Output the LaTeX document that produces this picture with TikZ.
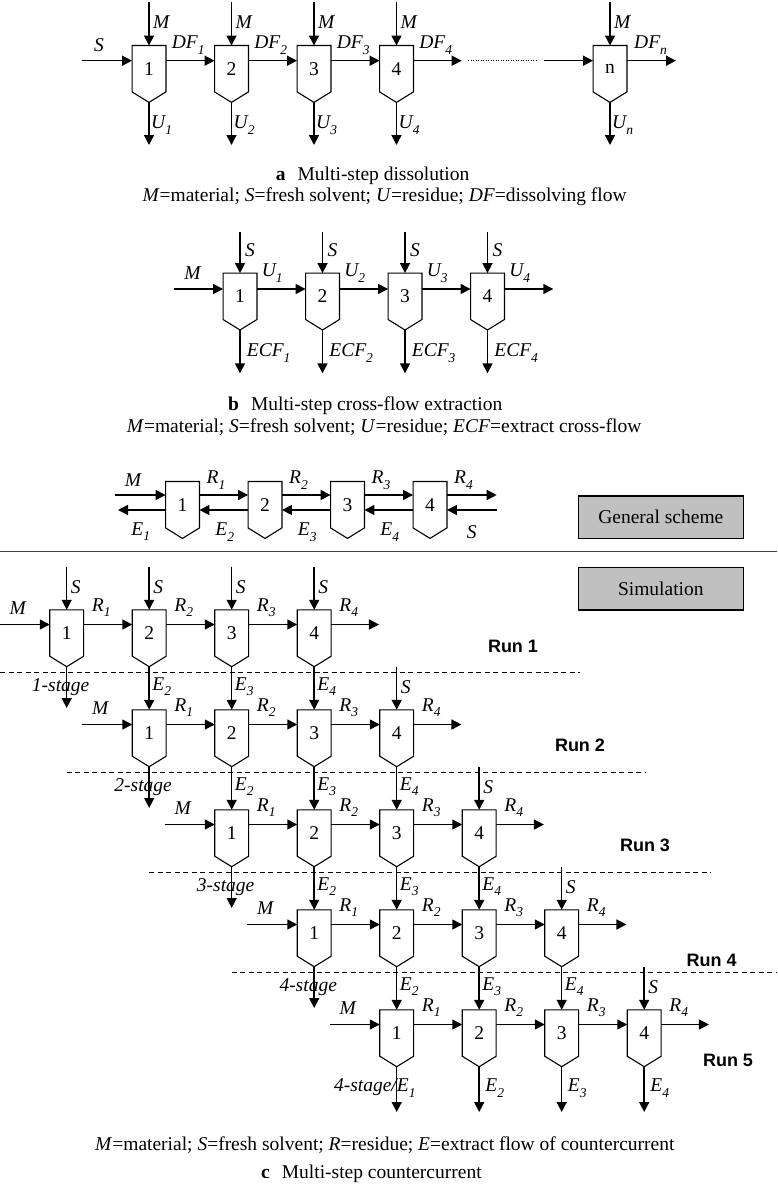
\documentclass[tikz,border=0pt]{standalone}
\usepackage{fontspec}
\setmainfont{Liberation Serif}
\newfontfamily\runfont{Liberation Sans}
\usetikzlibrary{arrows.meta,calc}
\definecolor{boxgray}{RGB}{192,192,192}
\newcommand\ssb[1]{\raisebox{-0.28em}{\fontsize{13.5}{14}\selectfont #1}}
\newcommand\unitbox[4]{%
  \node[unitrect] (#1) at (#2,#3+23) {#4};
  \draw[boxline] (#1.north west) -- (#1.south west) -- ($(#1.south)+(0,10.5)$) coordinate (#1-p) -- (#1.south east) -- (#1.north east) -- cycle;}
\begin{document}
\begin{tikzpicture}[x=1pt,y=-1pt,
  unitrect/.style={rectangle, minimum width=33.5pt, minimum height=46pt, inner sep=0pt, font=\fontsize{19.5}{22}\selectfont},
  boxline/.style={line width=1.1pt, line join=miter},
  arr/.style={line width=1.5pt, -{Triangle[length=10pt,width=10pt]}},
  lab/.style={inner sep=0pt, font=\fontsize{19.5}{22}\selectfont\itshape},
  captxt/.style={inner sep=0pt, font=\fontsize{19.5}{22}\selectfont},
  runlab/.style={inner sep=0pt, font=\runfont\bfseries\fontsize{18}{20}\selectfont},
  graybox/.style={draw, line width=1.1pt, fill=boxgray, minimum width=165pt, minimum height=42.5pt, inner sep=0pt, font=\fontsize{19.5}{22}\selectfont},
  dashline/.style={line width=1.1pt, dash pattern=on 5pt off 3.5pt},
  dotline/.style={line width=0.9pt, dash pattern=on 1pt off 1.5pt},
  sepline/.style={line width=1.5pt, black!75}
]
\useasboundingbox (0,0) rectangle (777,1189);

% ---------- (a) multi-step dissolution ----------
\foreach \i/\x in {1/149,2/231.5,3/314,4/396.5}{
  \unitbox{a\i}{\x}{45.7}{\i}
  \coordinate (aM\i) at (\x,1.5);
  \coordinate (aU\i) at (\x,145);
  \draw[arr] (aM\i) -- (a\i.north);
  \draw[arr] (a\i-p) -- (aU\i);
  \node[lab,anchor=west] (aMl\i) at (\x+4,21.7) {M};
  \node[lab,anchor=west] (aUl\i) at (\x+2,125) {U\ssb{\i}};
  \node[lab,anchor=west] (aDl\i) at (\x+22.7,45) {DF\ssb{\i}};
}
\unitbox{an}{610}{45.7}{n}
\coordinate (aMn) at (610,1.5);
\coordinate (aUn) at (610,145);
\draw[arr] (aMn) -- (an.north);
\draw[arr] (an-p) -- (aUn);
\node[lab,anchor=west] (aMln) at (614,21.7) {M};
\node[lab,anchor=west] (aUln) at (612,125) {U\ssb{n}};
\node[lab,anchor=west] (aDln) at (634,45) {DF\ssb{n}};
\coordinate (aS) at (82,60.7);
\node[lab] (aSl) at (99,45) {S};
\draw[arr] (aS) -- ([yshift=8pt]a1.west);
\foreach \i/\j in {1/2,2/3,3/4}{
  \draw[arr] ([yshift=8pt]a\i.east) -- ([yshift=8pt]a\j.west);
}
\coordinate (aD4) at (461.7,60.7);
\draw[arr] ([yshift=8pt]a4.east) -- (aD4);
\coordinate (aDa) at (468,60.7);
\coordinate (aDb) at (536,60.7);
\draw[dotline] (aDa) -- (aDb);
\coordinate (aIn) at (544,60.7);
\draw[arr] (aIn) -- ([yshift=8pt]an.west);
\coordinate (aOut) at (676,60.7);
\draw[arr] ([yshift=8pt]an.east) -- (aOut);
\node[captxt,anchor=west] (capa1) at (275.7,176) {\textbf{a}\hspace{12pt}Multi-step dissolution};
\node[captxt,anchor=west] (capa2) at (142.3,197) {\textit{M}=material; \textit{S}=fresh solvent; \textit{U}=residue; \textit{DF}=dissolving flow};

% ---------- (b) cross-flow extraction ----------
\foreach \i/\x in {1/240,2/322.5,3/405,4/487.5}{
  \unitbox{b\i}{\x}{273.3}{\i}
  \coordinate (bS\i) at (\x,231.7);
  \draw[arr] (bS\i) -- (b\i.north);
  \node[lab,anchor=west] (bSl\i) at (\x+5,250) {S};
  \coordinate (bE\i) at (\x,373.3);
  \draw[arr] (b\i-p) -- (bE\i);
  \node[lab,anchor=west] (bEl\i) at (\x+6.7,353) {ECF\ssb{\i}};
  \node[lab,anchor=west] (bUl\i) at (\x+21.7,273) {U\ssb{\i}};
}
\coordinate (bM) at (174,289);
\node[lab] (bMl) at (192.5,273) {M};
\draw[arr] (bM) -- ([yshift=7.3pt]b1.west);
\foreach \i/\j in {1/2,2/3,3/4}{
  \draw[arr] ([yshift=7.3pt]b\i.east) -- ([yshift=7.3pt]b\j.west);
}
\coordinate (bU4) at (553.3,289);
\draw[arr] ([yshift=7.3pt]b4.east) -- (bU4);
\node[captxt,anchor=west] (capb1) at (228,406) {\textbf{b}\hspace{12pt}Multi-step cross-flow extraction};
\node[captxt,anchor=west] (capb2) at (126.7,427) {\textit{M}=material; \textit{S}=fresh solvent; \textit{U}=residue; \textit{ECF}=extract cross-flow};

% ---------- (c) general scheme ----------
\foreach \i/\x in {1/182.5,2/265,3/347.5,4/430}{
  \unitbox{g\i}{\x}{481.7}{\i}
  \node[lab,anchor=west] (gRl\i) at (\x+24,480) {R\ssb{\i}};
}
\coordinate (gM) at (115,495);
\draw[arr] (gM) -- ([yshift=9.7pt]g1.west);
\coordinate (gE1) at (118,510);
\draw[arr] ([yshift=-5.3pt]g1.west) -- (gE1);
\foreach \i/\j/\x in {1/2/182.5,2/3/265,3/4/347.5}{
  \draw[arr] ([yshift=9.7pt]g\i.east) -- ([yshift=9.7pt]g\j.west);
  \draw[arr] ([yshift=-5.3pt]g\j.west) -- ([yshift=-5.3pt]g\i.east);
  \node[lab,anchor=west] (gEl\j) at (\x+32.75,532) {E\ssb{\j}};
}
\coordinate (gR4) at (496.7,495);
\draw[arr] ([yshift=9.7pt]g4.east) -- (gR4);
\coordinate (gS) at (496.7,510);
\draw[arr] (gS) -- ([yshift=-5.3pt]g4.east);
\node[lab] (gMl) at (133,480) {M};
\node[lab] (gEl1) at (140.7,531.7) {E\ssb{1}};
\node[lab] (gSl) at (471.7,532) {S};

\node[graybox] (gen) at (660.8,517.2) {General scheme};
\coordinate (sepL) at (0,551.7);
\coordinate (sepR) at (777,551.7);
\draw[sepline] (sepL) -- (sepR);
\node[graybox] (sim) at (660.8,588.7) {Simulation};

% ---------- simulation runs ----------
\foreach \r in {1,...,5}{
  \pgfmathsetmacro\ytop{610+100*(\r-1)}
  \foreach \j in {1,...,4}{
    \pgfmathsetmacro\xx{66.7+82.5*(\r+\j-2)}
    \unitbox{s\r\j}{\xx}{\ytop}{\j}
  }
}
\foreach \r in {1,...,5}{
  \pgfmathsetmacro\ytop{610+100*(\r-1)}
  \pgfmathsetmacro\xa{66.7+82.5*(\r-1)}
  \pgfmathsetmacro\xd{\xa+247.5}
  \coordinate (sM\r) at (\xa-66.75,\ytop+14.5);
  \draw[arr] (sM\r) -- ([yshift=8.5pt]s\r1.west);
  \node[lab] (sMl\r) at (\xa-49,\ytop-2) {M};
  \foreach \j in {1,2,3}{
    \pgfmathtruncatemacro\k{\j+1}
    \draw[arr] ([yshift=8.5pt]s\r\j.east) -- ([yshift=8.5pt]s\r\k.west);
  }
  \foreach \j in {1,...,4}{
    \node[lab,anchor=west] (sRl\r\j) at ($(s\r\j.north east)+(8,-2)$) {R\ssb{\j}};
  }
  \coordinate (sR\r) at (\xd+64.75,\ytop+14.5);
  \draw[arr] ([yshift=8.5pt]s\r4.east) -- (sR\r);
  \ifnum\r=1
    \foreach \j in {1,...,4}{
      \pgfmathsetmacro\xx{66.7+82.5*(\j-1)}
      \coordinate (sS\r\j) at (\xx,566.7);
      \draw[arr] (sS\r\j) -- (s\r\j.north);
      \node[lab,anchor=west] (sSl\r\j) at (\xx+4,586.7) {S};
    }
  \else
    \coordinate (sS\r4) at (\xd,\ytop-43.3);
    \draw[arr] (sS\r4) -- (s\r4.north);
    \node[lab,anchor=west] (sSl\r4) at (\xd+4,\ytop-23.3) {S};
    \pgfmathtruncatemacro\q{\r-1}
    \foreach \j in {1,2,3}{
      \pgfmathtruncatemacro\k{\j+1}
      \draw[arr] (s\q\k-p) -- (s\r\j.north);
      \node[lab,anchor=west] (sEl\r\j) at ($(s\r\j.north)+(3,-23.3)$) {E\ssb{\k}};
    }
  \fi
  \ifnum\r<5
    \coordinate (sO\r) at (\xa,\ytop+98);
    \draw[arr] (s\r1-p) -- (sO\r);
    \ifnum\r<4
      \node[lab] (stg\r) at (\xa-6,\ytop+76.7) {\r-stage};
    \else
      \node[lab] (stg\r) at (\xa-6,\ytop+76.7) {4-stage};
    \fi
  \fi
}
% run 5 outputs
\foreach \j in {1,...,4}{
  \pgfmathsetmacro\xx{396.7+82.5*(\j-1)}
  \coordinate (sO5\j) at (\xx,1112);
  \draw[arr] (s5\j-p) -- (sO5\j);
}
\foreach \j in {2,3,4}{
  \pgfmathsetmacro\xx{396.7+82.5*(\j-1)}
  \node[lab,anchor=west] (sOl5\j) at (\xx+6,1088) {E\ssb{\j}};
}
\node[lab,anchor=east] (stg5) at (415.7,1088) {4-stage/E\ssb{1}};

% dashed separators
\foreach \k in {1,...,4}{
  \pgfmathsetmacro\yy{672.7+100*(\k-1)}
  \pgfmathsetmacro\xs{max(0,82.5*(\k-1)-16)}
  \pgfmathsetmacro\xe{min(777,580+65.7*(\k-1))}
  \coordinate (dL\k) at (\xs,\yy);
  \coordinate (dR\k) at (\xe,\yy);
  \draw[dashline] (dL\k) -- (dR\k);
}

% run labels
\node[runlab] (run1) at (513,646) {Run 1};
\node[runlab] (run2) at (580,745) {Run 2};
\node[runlab] (run3) at (645,845) {Run 3};
\node[runlab] (run4) at (711.7,960) {Run 4};
\node[runlab] (run5) at (728,1060) {Run 5};

% captions c
\node[captxt,anchor=west] (capc1) at (95,1145) {\textit{M}=material; \textit{S}=fresh solvent; \textit{R}=residue; \textit{E}=extract flow of countercurrent};
\node[captxt,anchor=west] (capc2) at (261,1174) {\textbf{c}\hspace{12pt}Multi-step countercurrent};
\end{tikzpicture}
\end{document}
